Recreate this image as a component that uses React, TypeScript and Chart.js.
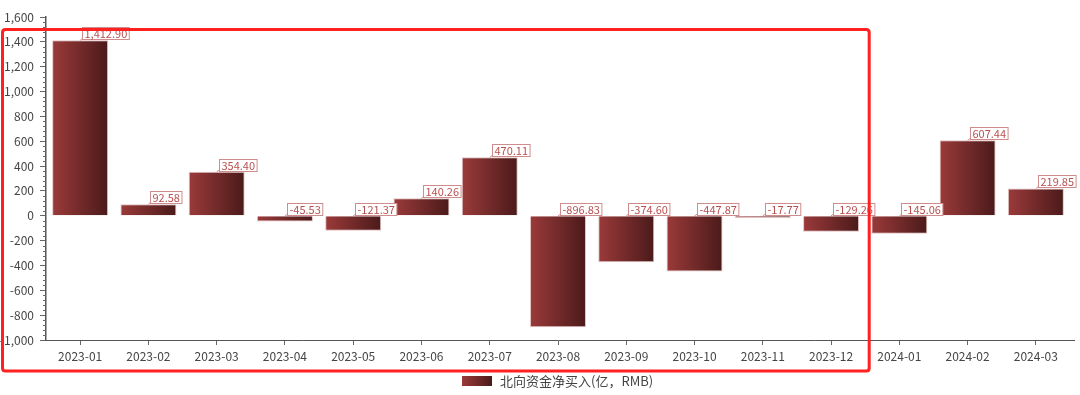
import React, { useEffect, useRef } from "react";
import { Chart, registerables } from "chart.js";

Chart.register(...registerables);

const categories = [
  "2023-01", "2023-02", "2023-03", "2023-04", "2023-05", "2023-06", "2023-07",
  "2023-08", "2023-09", "2023-10", "2023-11", "2023-12", "2024-01", "2024-02", "2024-03",
];
const netBuy = [
  1412.9, 92.58, 354.4, -45.53, -121.37, 140.26, 470.11,
  -896.83, -374.6, -447.87, -17.77, -129.26, -145.06, 607.44, 219.85,
];
const seriesName = "北向资金净买入(亿，RMB)";
const yMin = -1000;
const yMax = 1600;
const yStep = 200;
const yMinorStep = 40;
const highlightLastIndex = 11; // box encloses 2023-01 .. 2023-12

const FONT = "'Noto Sans CJK SC', 'Open Sans', sans-serif";
const GRAD_LEFT = "#9b3a3a";
const GRAD_RIGHT = "#4b1a1a";

const fmt = (v: number) =>
  v.toLocaleString("en-US", { minimumFractionDigits: 2, maximumFractionDigits: 2 });

const gradientPlugin = {
  id: "barGradient",
  beforeDatasetsDraw(chart: any) {
    const ctx = chart.ctx;
    const meta = chart.getDatasetMeta(0);
    meta.data.forEach((bar: any) => {
      const { x, width } = bar.getProps(["x", "width"], true);
      const g = ctx.createLinearGradient(x - width / 2, 0, x + width / 2, 0);
      g.addColorStop(0, GRAD_LEFT);
      g.addColorStop(1, GRAD_RIGHT);
      bar.options.backgroundColor = g;
    });
  },
};

const labelPlugin = {
  id: "valueLabels",
  afterDatasetsDraw(chart: any) {
    const ctx = chart.ctx;
    const yScale = chart.scales.y;
    const meta = chart.getDatasetMeta(0);
    ctx.save();
    ctx.font = `11px ${FONT}`;
    ctx.textBaseline = "middle";
    meta.data.forEach((bar: any, i: number) => {
      const v = netBuy[i];
      const text = fmt(v);
      const x = bar.x;
      const yb = yScale.getPixelForValue(Math.max(v, 0));
      const tw = ctx.measureText(text).width;
      const h = 12;
      const bx = Math.round(x + 2) + 0.5;
      const by = Math.round(yb - h - 1) + 0.5;
      ctx.strokeStyle = "#d08c8c";
      ctx.lineWidth = 1;
      ctx.beginPath();
      ctx.moveTo(x, yb);
      ctx.lineTo(bx + 1, by + h - 2);
      ctx.stroke();
      ctx.fillStyle = "#ffffff";
      ctx.fillRect(bx, by, tw + 4, h);
      ctx.strokeRect(bx, by, tw + 4, h);
      ctx.fillStyle = "#b8504f";
      ctx.fillText(text, bx + 2, by + h / 2 + 0.5);
    });
    ctx.restore();
  },
};

const decorPlugin = {
  id: "decor",
  afterDraw(chart: any) {
    const ctx = chart.ctx;
    const yScale = chart.scales.y;
    const xScale = chart.scales.x;
    const area = chart.chartArea;
    const ax = area.left;
    ctx.save();
    // minor ticks on the value axis
    ctx.strokeStyle = "#666";
    ctx.lineWidth = 1;
    for (let v = yMin; v <= yMax; v += yMinorStep) {
      if (v % yStep === 0) continue;
      const y = Math.round(yScale.getPixelForValue(v)) + 0.5;
      ctx.beginPath();
      ctx.moveTo(ax - 3, y);
      ctx.lineTo(ax, y);
      ctx.stroke();
    }
    // category axis line extension
    ctx.strokeStyle = "#555";
    ctx.beginPath();
    const yb = Math.round(area.bottom) + 0.5;
    ctx.moveTo(area.right, yb);
    ctx.lineTo(area.right + 5, yb);
    ctx.stroke();

    // legend
    ctx.font = `13px ${FONT}`;
    const tw = ctx.measureText(seriesName).width;
    const bw = 30;
    const bh = 10;
    const gap = 8;
    const total = bw + gap + tw;
    const cx = (area.left + area.right) / 2;
    const lx = Math.round(cx - total / 2);
    const ly = 381;
    const g = ctx.createLinearGradient(lx, 0, lx + bw, 0);
    g.addColorStop(0, GRAD_LEFT);
    g.addColorStop(1, GRAD_RIGHT);
    ctx.fillStyle = g;
    ctx.fillRect(lx, ly - bh / 2, bw, bh);
    ctx.fillStyle = "#444";
    ctx.textBaseline = "middle";
    ctx.textAlign = "left";
    ctx.fillText(seriesName, lx + bw + gap, ly + 0.5);

    // red highlight box
    const right =
      (xScale.getPixelForValue(highlightLastIndex) + xScale.getPixelForValue(highlightLastIndex + 1)) / 2 + 4;
    const top = yScale.getPixelForValue(1500);
    ctx.strokeStyle = "#ff2020";
    ctx.lineWidth = 3;
    ctx.beginPath();
    const l = 2.5;
    const b = 371;
    const r = 3;
    ctx.moveTo(l + r, top);
    ctx.lineTo(right - r, top);
    ctx.quadraticCurveTo(right, top, right, top + r);
    ctx.lineTo(right, b - r);
    ctx.quadraticCurveTo(right, b, right - r, b);
    ctx.lineTo(l + r, b);
    ctx.quadraticCurveTo(l, b, l, b - r);
    ctx.lineTo(l, top + r);
    ctx.quadraticCurveTo(l, top, l + r, top);
    ctx.closePath();
    ctx.stroke();
    ctx.restore();
  },
};

export default function App() {
  const ref = useRef<HTMLCanvasElement | null>(null);
  useEffect(() => {
    if (!ref.current) return;
    const chart = new Chart(ref.current, {
      type: "bar",
      data: {
        labels: categories,
        datasets: [
          {
            label: seriesName,
            data: netBuy,
            backgroundColor: () => "#6e2626",
            borderColor: "rgba(200,140,140,0.55)",
            borderWidth: 1,
            categoryPercentage: 0.82,
            barPercentage: 1,
          },
        ],
      },
      options: {
        animation: false,
        responsive: true,
        maintainAspectRatio: false,
        layout: { padding: { top: 17, right: 10, left: 0, bottom: 28 } },
        plugins: {
          tooltip: { enabled: false },
          legend: { display: false },
        },
        scales: {
          x: {
            offset: true,
            grid: {
              display: true,
              offset: false,
              drawOnChartArea: false,
              tickLength: 5,
              tickColor: "#666",
            },
            border: { display: true, color: "#555", width: 1 },
            ticks: {
              color: "#444",
              padding: 4,
              maxRotation: 0,
              autoSkip: false,
              font: { family: FONT, size: 12 },
            },
            afterFit(scale: any) {
              scale.height = 27;
            },
          },
          y: {
            min: yMin,
            max: yMax,
            grid: {
              display: true,
              drawOnChartArea: false,
              tickLength: 6,
              tickColor: "#666",
            },
            border: { display: true, color: "#555", width: 1.5 },
            ticks: {
              stepSize: yStep,
              color: "#444",
              padding: 6,
              font: { family: FONT, size: 12 },
              callback: (v: any) => Number(v).toLocaleString("en-US"),
            },
            afterFit(scale: any) {
              scale.width = 46;
            },
          },
        },
      },
      plugins: [gradientPlugin, labelPlugin, decorPlugin],
    });
    return () => chart.destroy();
  }, []);
  return (
    <div style={{ position: "fixed", left: 0, top: 0, width: 1080, height: 395, background: "#fff" }}>
      <canvas ref={ref} />
    </div>
  );
}
